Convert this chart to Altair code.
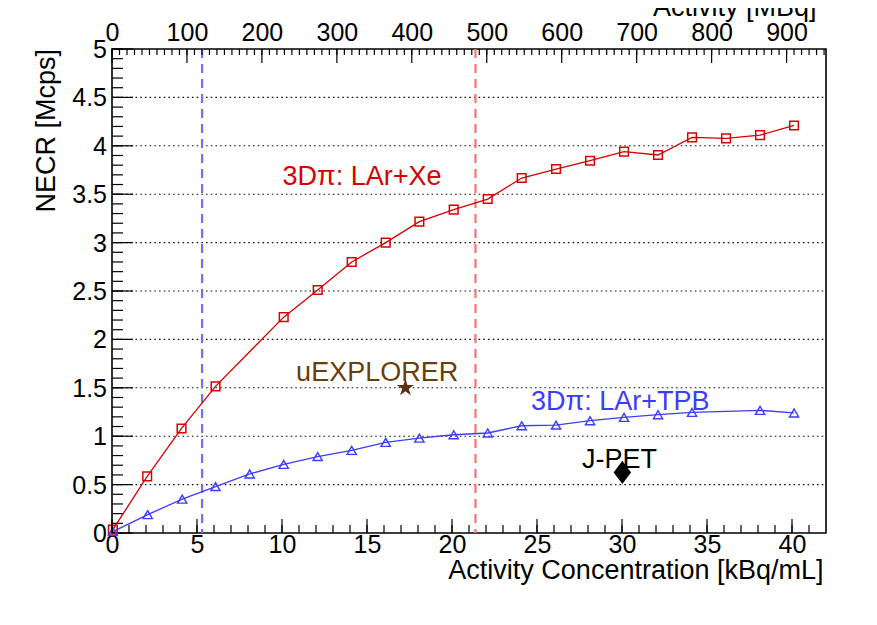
import altair as alt
import pandas as pd

# ---------------- data ----------------
conc_red = [0.05, 2.07, 4.09, 6.09, 10.1, 12.1, 14.1, 16.1, 18.08, 20.1, 22.1,
            24.1, 26.12, 28.12, 30.12, 32.12, 34.12, 36.12, 38.12, 40.12]
necr_red = [0.035, 0.585, 1.08, 1.515, 2.23, 2.51, 2.80, 3.00, 3.216, 3.34, 3.45,
            3.667, 3.76, 3.846, 3.94, 3.905, 4.087, 4.077, 4.11, 4.21]

conc_blue = [0.05, 2.1, 4.13, 6.09, 8.1, 10.1, 12.1, 14.1, 16.1, 18.08, 20.1, 22.1,
             24.1, 26.12, 28.12, 30.12, 32.12, 34.12, 38.12, 40.12]
necr_blue = [0.015, 0.19, 0.35, 0.48, 0.61, 0.709, 0.79, 0.853, 0.936, 0.98, 1.015,
             1.033, 1.108, 1.115, 1.16, 1.194, 1.222, 1.246, 1.267, 1.24]

star_conc = [17.26]
star_necr = [1.50]
diamond_conc = [30.02]
diamond_necr = [0.626]

vline_conc = [5.3, 21.38]

label_texts = ["3D\u03c0: LAr+Xe", "3D\u03c0: LAr+TPB", "uEXPLORER", "J-PET"]
label_conc = [10.03, 24.65, 10.83, 27.65]
label_necr = [3.59, 1.274, 1.566, 0.671]

x_major = [0, 5, 10, 15, 20, 25, 30, 35, 40]
x_minor = list(range(0, 42))
y_major = [0, 0.5, 1, 1.5, 2, 2.5, 3, 3.5, 4, 4.5, 5]
y_major_text = ["0", "0.5", "1", "1.5", "2", "2.5", "3", "3.5", "4", "4.5", "5"]
y_grid = [0.5, 1, 1.5, 2, 2.5, 3, 3.5, 4, 4.5]
y_minor = [round(i * 0.1, 1) for i in range(51)]
top_major = [0, 100, 200, 300, 400, 500, 600, 700, 800, 900]
top_minor = list(range(0, 951, 10))

y_title = "NECR [Mcps]"

X_MAX = 42.0            # kBq/mL at right frame
TOP_MAX = 952.6         # MBq at right frame

# ---------------- styles ----------------
FONT = "Liberation Sans"
FS_TICK = 25
FS_TXT = 27
RED = "#d80000"
BLUE = "#3c3cff"
BROWN = "#6b3d0a"
label_colors = [RED, BLUE, BROWN, "#000000"]
vline_colors = ["#7070ff", "#ff7070"]
W, H = 714, 484

STAR = ("M0,-1L0.2245,-0.309L0.951,-0.309L0.363,0.118L0.588,0.809L0,0.382"
        "L-0.588,0.809L-0.363,0.118L-0.951,-0.309L-0.2245,-0.309Z")
DIAMOND = "M0,-1L0.75,0L0,1L-0.75,0Z"


def xs():
    return alt.Scale(domain=[0, X_MAX], nice=False, zero=False)


def ys():
    return alt.Scale(domain=[0, 5], nice=False, zero=False)


def ts():
    return alt.Scale(domain=[0, TOP_MAX], nice=False, zero=False)


x_axis = alt.Axis(
    values=x_major, format="d", ticks=False, tickSize=0, domain=False, grid=False,
    labelFont=FONT, labelFontSize=FS_TICK, labelColor="black", labelBaseline="alphabetic",
    labelPadding=19, labelFlush=False, labelOverlap=False,
    title="Activity Concentration [kBq/mL]", titleFont=FONT, titleFontSize=FS_TXT,
    titleFontWeight="normal", titleColor="black", titleX=711, titleY=45,
    titleAlign="right", titleBaseline="alphabetic", titleAngle=0,
)
top_axis = alt.Axis(
    orient="top", values=top_major, format="d", ticks=False, tickSize=0, domain=False,
    grid=False, labelFont=FONT, labelFontSize=FS_TICK, labelColor="black",
    labelBaseline="alphabetic", labelPadding=9, labelFlush=False, labelOverlap=False,
    title="Activity [MBq]", titleFont=FONT, titleFontSize=FS_TXT, titleFontWeight="normal",
    titleColor="black", titleX=704, titleY=-34, titleAlign="right",
    titleBaseline="alphabetic", titleAngle=0,
)

df_red = pd.DataFrame({"x": conc_red, "y": necr_red})
df_blue = pd.DataFrame({"x": conc_blue, "y": necr_blue})
df_v = pd.DataFrame({"x": vline_conc, "c": vline_colors})
df_lab = pd.DataFrame({"x": label_conc, "y": label_necr, "t": label_texts, "c": label_colors})
df_star = pd.DataFrame({"x": star_conc, "y": star_necr})
df_dia = pd.DataFrame({"x": diamond_conc, "y": diamond_necr})
df_ylab = pd.DataFrame({"y": y_major, "t": y_major_text})
df_ytitle = pd.DataFrame({"t": [y_title]})


def X(axis=None):
    return alt.X("x:Q", scale=xs(), axis=axis)


def Y(axis=None):
    return alt.Y("y:Q", scale=ys(), axis=axis)


grid = alt.Chart(pd.DataFrame({"y": y_grid})).mark_rule(
    color="#111111", strokeWidth=1.1, strokeDash=[1.6, 3.1]).encode(
    y=Y(), x=alt.value(0), x2=alt.value(W))

ly_major = alt.Chart(pd.DataFrame({"y": y_major})).mark_rule(color="black", strokeWidth=1.2).encode(
    y=Y(), x=alt.value(0), x2=alt.value(21))
ly_minor = alt.Chart(pd.DataFrame({"y": y_minor})).mark_rule(color="black", strokeWidth=1.2).encode(
    y=Y(), x=alt.value(0), x2=alt.value(11))
ylabels = alt.Chart(df_ylab).mark_text(align="right", baseline="middle", font=FONT,
                                       fontSize=FS_TICK, color="black", dy=1).encode(
    y=Y(), x=alt.value(-5), text="t:N")
ytitle = alt.Chart(df_ytitle).mark_text(align="right", baseline="alphabetic", angle=270,
                                        font=FONT, fontSize=FS_TXT, color="black").encode(
    x=alt.value(-57), y=alt.value(0), text="t:N")

vlines = alt.Chart(df_v).mark_rule(strokeDash=[9, 6], strokeWidth=2.2).encode(
    x=X(), color=alt.Color("c:N", scale=None))

red_line = alt.Chart(df_red).mark_line(color=RED, strokeWidth=1.3).encode(x=X(x_axis), y=Y())
red_pts = alt.Chart(df_red).mark_point(shape="square", filled=False, size=75,
                                       color=RED, strokeWidth=1.5, opacity=1).encode(x=X(), y=Y())
blue_line = alt.Chart(df_blue).mark_line(color=BLUE, strokeWidth=1.3).encode(x=X(), y=Y())
blue_pts = alt.Chart(df_blue).mark_point(shape="triangle-up", filled=False, size=85,
                                         color=BLUE, strokeWidth=1.4, opacity=1).encode(x=X(), y=Y())

star = alt.Chart(df_star).mark_point(shape=STAR, filled=True, size=330, color="#5a320f",
                                     opacity=1).encode(x=X(), y=Y())
dia = alt.Chart(df_dia).mark_point(shape=DIAMOND, filled=True, size=540, color="#000000",
                                   opacity=1).encode(x=X(), y=Y())

labels = alt.Chart(df_lab).mark_text(align="left", baseline="alphabetic", font=FONT,
                                     fontSize=FS_TXT).encode(
    x=X(), y=Y(), text="t:N", color=alt.Color("c:N", scale=None))

bx_major = alt.Chart(pd.DataFrame({"x": x_major})).mark_rule(color="black", strokeWidth=1.2).encode(
    x=X(), y=alt.value(H), y2=alt.value(H - 14))
bx_minor = alt.Chart(pd.DataFrame({"x": x_minor})).mark_rule(color="black", strokeWidth=1.2).encode(
    x=X(), y=alt.value(H), y2=alt.value(H - 8))

t_major = alt.Chart(pd.DataFrame({"m": top_major})).mark_rule(color="black", strokeWidth=1.2).encode(
    x=alt.X("m:Q", scale=ts(), axis=top_axis), y=alt.value(0), y2=alt.value(14))
t_minor = alt.Chart(pd.DataFrame({"m": top_minor})).mark_rule(color="black", strokeWidth=1.2).encode(
    x=alt.X("m:Q", scale=ts(), axis=None), y=alt.value(0), y2=alt.value(6))

chart = alt.layer(
    grid, ly_major, ly_minor, ylabels, ytitle, vlines, red_line, blue_line, red_pts,
    blue_pts, star, dia, labels, bx_major, bx_minor, t_major, t_minor,
).resolve_scale(x="independent").properties(
    width=W, height=H,
    autosize=alt.AutoSizeParams(type="none"),
    padding={"left": 104, "top": 41, "right": 40, "bottom": 80},
    background="white",
).configure_view(stroke="black", strokeWidth=1.6)

chart.save("out.html", embed_options={"renderer": "svg", "actions": False})
